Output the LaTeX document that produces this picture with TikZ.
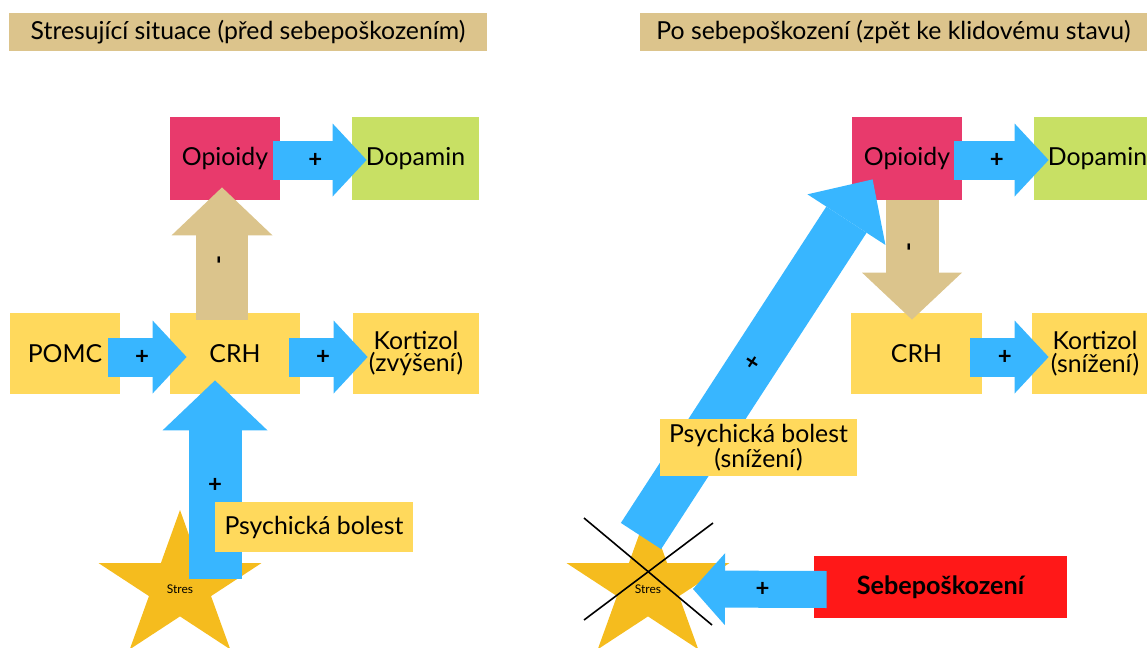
\documentclass[tikz,border=0pt]{standalone}
\usepackage{fontspec}
\setmainfont{Lato}
\usetikzlibrary{arrows.meta,calc}
\definecolor{titlecol}{RGB}{220,196,140}
\definecolor{tancol}{RGB}{219,196,140}
\definecolor{pinkcol}{RGB}{232,58,108}
\definecolor{limecol}{RGB}{200,224,100}
\definecolor{yelcol}{RGB}{255,217,92}
\definecolor{arblue}{RGB}{56,182,255}
\definecolor{starcol}{RGB}{245,188,30}
\definecolor{redcol}{RGB}{255,24,24}
% five-point star at (#1,#2)
\newcommand{\stresstar}[2]{%
  \fill[starcol, shift={(#1,#2)}, xscale=1.11] (-90:77)
    \foreach \i in {1,...,9} { -- ({-90+36*\i}:{mod(\i,2)==1 ? 29.4 : 77}) } -- cycle;}

\begin{document}
\begin{tikzpicture}[x=0.5pt, y=-0.5pt, font=\fontsize{12.4}{11.2}\selectfont,
    box/.style={inner sep=0pt, align=center, minimum height=41.5pt},
    title/.style={fill=titlecol, inner sep=0pt, minimum height=19pt},
    sign/.style={font=\fontsize{12}{12}\selectfont\bfseries, inner sep=0pt},
    blk/.style args={#1/#2/#3/#4}{draw=#1, line width=#2,
      -{Triangle[width=#3, length=#4, line width=0pt]}},
    crossline/.style={draw=black, line width=0.8pt}]
  \clip (0,0) rectangle (1147,648);
  %titles
  \node[title, minimum width=239pt] (titleL) at (248,32) {Stresující situace (před sebepoškozením)};
  \node[title, minimum width=253.5pt] (titleR) at (893.5,32) {Po sebepoškození (zpět ke klidovému stavu)};

  %left nodes
  \node[box, fill=pinkcol, minimum width=55pt] (opL) at (225,158.5) {Opioidy};
  \node[box, fill=limecol, minimum width=63.5pt] (dopL) at (415.5,158.5) {Dopamin};
  \node[box, fill=yelcol, minimum width=55pt, minimum height=40.5pt] (pomcL) at (65,353.5) {POMC};
  \node[box, fill=yelcol, minimum width=65pt, minimum height=40.5pt] (crhL) at (235,353.5) {CRH};
  \node[box, fill=yelcol, minimum width=63pt, minimum height=40.5pt] (kortL) at (416,353.5) {Kortizol\\(zvýšení)};
  %left edges
  \path [blk=arblue/19.5pt/36.5pt/17pt] ($(opL.east)+(-7,1.5)$) to node[sign, pos=0.45]{+} ($(dopL.west)+(15,1.5)$);
  \path [blk=arblue/19.5pt/36.5pt/17pt] ($(pomcL.east)+(-12,3.5)$) to node[sign, pos=0.43]{+} ($(crhL.west)+(17,3.5)$);
  \path [blk=arblue/19.5pt/36.5pt/17pt] ($(crhL.east)+(-11,3.5)$) to node[sign, pos=0.43]{+} ($(kortL.west)+(15,3.5)$);
  \path [blk=tancol/26pt/50.5pt/24pt] ($(crhL.north)+(-13,7)$) to node[sign, pos=0.45, rotate=90]{-} ($(opL.south)+(-3,-13)$);
  \stresstar{180}{587}
  \node[inner sep=0pt, font=\fontsize{6}{6}\selectfont] (starL) at (180,589) {Stres};
  \path [blk=arblue/26.5pt/52.5pt/25pt] ($(starL)+(35,-10)$) to node[sign, pos=0.47]{+} ($(crhL.south)+(-20,-14)$);
  \node[box, fill=yelcol, minimum width=99pt, minimum height=25pt] (painL) at (314,527) {Psychická bolest};

  %right nodes
  \node[box, fill=pinkcol, minimum width=55pt] (opR) at (907,158.5) {Opioidy};
  \node[box, fill=limecol, minimum width=63.5pt] (dopR) at (1097.5,158.5) {Dopamin};
  \node[box, fill=yelcol, minimum width=65.5pt, minimum height=40.5pt] (crhR) at (916.5,353.5) {CRH};
  \node[box, fill=yelcol, minimum width=63pt, minimum height=40.5pt] (kortR) at (1095,353.5) {Kortizol\\(snížení)};
  \node[box, fill=redcol, minimum width=126.5pt, minimum height=31pt, font=\fontsize{12.6}{13}\selectfont\bfseries] (sebR) at (940.5,587) {Sebepoškození};
  %right edges
  \path [blk=arblue/19.5pt/36.5pt/17pt] ($(opR.east)+(-8,1.5)$) to node[sign, pos=0.45]{+} ($(dopR.west)+(15,1.5)$);
  \path [blk=arblue/19.5pt/36.5pt/17pt] ($(crhR.east)+(-12,3.5)$) to node[sign, pos=0.44]{+} ($(kortR.west)+(17,3.5)$);
  \path [blk=tancol/26.5pt/50pt/23.5pt] ($(opR.south)+(5,0)$) to node[sign, pos=0.39, rotate=90]{-} ($(crhR.north)+(-4.5,7)$);
  \stresstar{648}{587}
  \node[inner sep=0pt, font=\fontsize{6}{6}\selectfont] (starR) at (648,589) {Stres};
  \path [blk=arblue/24pt/46.5pt/24pt] ($(starR)+(-7,-53)$) to node[sign, pos=0.485, sloped]{+} ($(opR.south west)+(21,-21)$);
  \node[box, fill=yelcol, minimum width=98.5pt, minimum height=28.5pt] (painR) at (758.5,447.5) {Psychická bolest\\(snížení)};
  \path [crossline] ($(starR)+(-64,-71)$) -- ($(starR)+(64,36)$);
  \path [crossline] ($(starR)+(65,-66)$) -- ($(starR)+(-64,31)$);
  \path [blk=arblue/18.5pt/36pt/16pt] ($(sebR.west)+(13,2.5)$) to node[sign, pos=0.48]{+} ($(starR)+(45,0)$);
\end{tikzpicture}
\end{document}
